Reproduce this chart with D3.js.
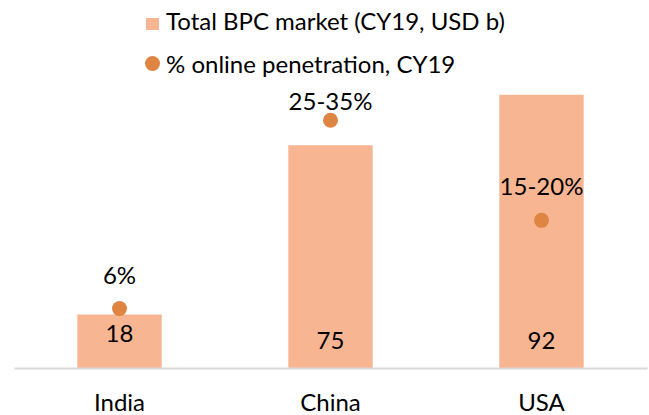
<!DOCTYPE html>
<html>
<head>
<meta charset="utf-8">
<script src="https://cdn.jsdelivr.net/npm/d3@7"></script>
<style>
  html, body { margin: 0; padding: 0; background: #fff; }
  svg { display: block; font-family: Lato, "Open Sans", sans-serif; }
</style>
</head>
<body>
<svg id="chart" width="649" height="415"></svg>
<script>
const categories = ["India", "China", "USA"];
const marketValues = [18, 75, 92];
const marketLabels = ["18", "75", "92"];
const onlineValues = [7, 29.2, 17.4];
const onlineLabels = ["6%", "25-35%", "15-20%"];
const legendLabels = ["Total BPC market (CY19, USD b)", "% online penetration, CY19"];

(function () {
const barColor = "#F8B592";
const dotColor = "#DE8544";
const axisColor = "#D9D9D9";
const fontSize = 24;

const svg = d3.select("#chart");
const pLeft = 14, pRight = 647, pTop = 71, pBottom = 368;

const x = d3.scaleBand().domain(categories).range([pLeft, pRight]).padding(0);
const y = d3.scaleLinear().domain([0, 100]).range([pBottom, pTop]);
const y2 = d3.scaleLinear().domain([0, 35]).range([pBottom, pTop]);
const barW = x.bandwidth() * 0.4;

// bars
svg.selectAll("rect.bar").data(categories).enter().append("rect")
  .attr("class", "bar")
  .attr("x", d => x(d) + x.bandwidth() / 2 - barW / 2)
  .attr("width", barW)
  .attr("y", (d, i) => y(marketValues[i]))
  .attr("height", (d, i) => y(0) - y(marketValues[i]))
  .attr("fill", barColor);

// axis
const xAxis = d3.axisBottom(x).tickSize(0).tickPadding(27);
const ax = svg.append("g").attr("transform", `translate(0,${pBottom})`).call(xAxis);
ax.select(".domain").attr("stroke", axisColor).attr("stroke-width", 2);
ax.selectAll("text").attr("font-size", fontSize).attr("fill", "#000")
  .attr("font-family", "Lato, 'Open Sans', sans-serif").attr("dy", 0)
  .attr("y", 43);

// bar value labels
const barLabelPos = ["end", "base", "base"];
svg.selectAll("text.barlab").data(categories).enter().append("text")
  .attr("class", "barlab")
  .attr("x", d => x(d) + x.bandwidth() / 2)
  .attr("y", (d, i) => barLabelPos[i] === "end" ? y(marketValues[i]) + 27 : y(0) - 19)
  .attr("text-anchor", "middle")
  .attr("font-size", fontSize)
  .attr("fill", "#000")
  .text((d, i) => marketLabels[i]);

// dots
svg.selectAll("circle.dot").data(categories).enter().append("circle")
  .attr("class", "dot")
  .attr("cx", d => x(d) + x.bandwidth() / 2)
  .attr("cy", (d, i) => y2(onlineValues[i]))
  .attr("r", 7.5)
  .attr("fill", dotColor);

const dotLabelGap = [25, 10, 25];
svg.selectAll("text.dotlab").data(categories).enter().append("text")
  .attr("class", "dotlab")
  .attr("x", d => x(d) + x.bandwidth() / 2)
  .attr("y", (d, i) => y2(onlineValues[i]) - dotLabelGap[i])
  .attr("text-anchor", "middle")
  .attr("font-size", fontSize)
  .attr("fill", "#000")
  .text((d, i) => onlineLabels[i]);

// legend
const lg = svg.append("g");
lg.append("rect").attr("x", 146).attr("y", 18).attr("width", 13).attr("height", 12).attr("fill", barColor);
lg.append("text").attr("x", 166).attr("y", 30).attr("font-size", fontSize).attr("fill", "#000").text(legendLabels[0]);
lg.append("circle").attr("cx", 152.5).attr("cy", 63.5).attr("r", 7.5).attr("fill", dotColor);
lg.append("text").attr("x", 166).attr("y", 73).attr("font-size", fontSize).attr("fill", "#000").text(legendLabels[1]);
})();
</script>
</body>
</html>
